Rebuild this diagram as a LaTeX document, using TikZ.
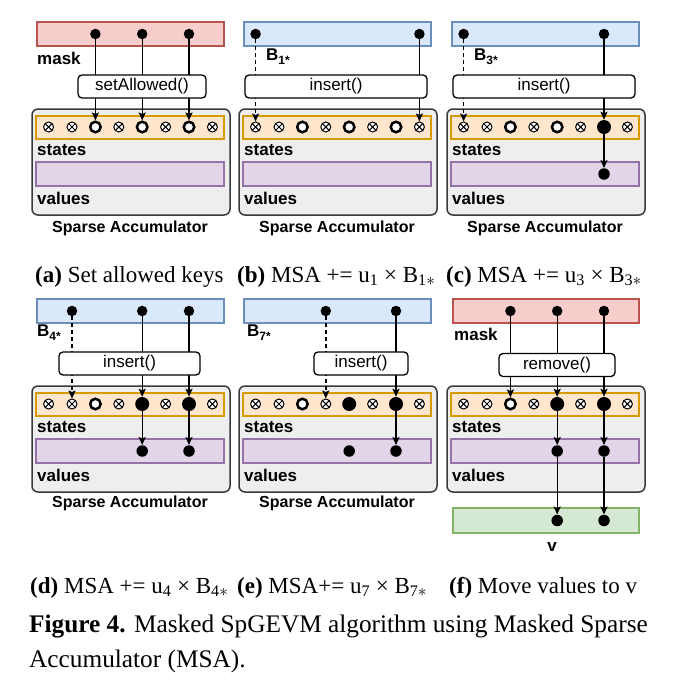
\documentclass[tikz,border=0pt]{standalone}
\usepackage{fontspec}
\setmainfont{Liberation Serif}
\setsansfont{Liberation Sans}
\usetikzlibrary{arrows.meta,positioning,calc}

\definecolor{maskfill}{HTML}{F8CECC}
\definecolor{maskline}{HTML}{B85450}
\definecolor{rowfill}{HTML}{DAE8FC}
\definecolor{rowline}{HTML}{6C8EBF}
\definecolor{statefill}{HTML}{FFE6CC}
\definecolor{stateline}{HTML}{D79B00}
\definecolor{valfill}{HTML}{E1D5E7}
\definecolor{valline}{HTML}{9673A6}
\definecolor{vecfill}{HTML}{D5E8D4}
\definecolor{vecline}{HTML}{82B366}
\definecolor{accfill}{HTML}{EEEEEE}
\definecolor{accline}{HTML}{36393D}

\tikzset{
  strip/.style 2 args={draw=#1, fill=#2, line width=1.1pt},
  accbox/.style={draw=accline, fill=accfill, rounded corners=6pt, line width=1.5pt},
  opbox/.style={draw, fill=white, rounded corners=4pt, line width=1.3pt, minimum height=23pt,
    inner sep=0pt, font=\sffamily\fontsize{17}{17}\selectfont},
  dot/.style={circle, fill=black, inner sep=0pt, minimum size=10.5pt},
  cellx/.style={circle, draw, fill=white, line width=1pt, inner sep=0pt, minimum size=10pt,
    path picture={\draw[line width=1pt]
      (path picture bounding box.south west) -- (path picture bounding box.north east)
      (path picture bounding box.north west) -- (path picture bounding box.south east);}},
  cello/.style={circle, draw, fill=white, line width=2.5pt, inner sep=0pt, minimum size=10.5pt},
  cellf/.style={circle, fill=black, inner sep=0pt, minimum size=14pt},
  arr/.style={-{Stealth[length=8pt,width=7pt,inset=1.5pt]}, line width=1.4pt},
  darr/.style={arr, dash pattern=on 4pt off 3pt},
  lbl/.style={anchor=west, inner sep=0pt, font=\sffamily\bfseries\fontsize{17}{17}\selectfont},
  title/.style={inner sep=0pt, font=\sffamily\bfseries\fontsize{16}{16}\selectfont},
  captxt/.style={anchor=base west, inner sep=0pt, font=\fontsize{23}{23}\selectfont},
}
\newcommand{\subst}[1]{{\fontsize{12}{12}\selectfont\raisebox{-4pt}{#1}}}

\begin{document}
\begin{tikzpicture}[x=1pt,y=-1pt]
\fill[white] (0,0) rectangle (672,680);
\useasboundingbox (0,0) rectangle (672,680);

% (a) set allowed keys
\begin{scope}
  \draw[strip={maskline}{maskfill}] (37,22) rectangle (224,46);
  \foreach \i in {2,4,6} \node[dot] (a-m\i) at ({48.6+23.4*\i},34) {};
  \node[lbl] (a-mlbl) at (37,58) {mask};
  \draw[accbox] (32,109) rectangle (230,215);
  \draw[strip={stateline}{statefill}] (36,116) rectangle (224,139);
  \draw[strip={valline}{valfill}] (36,162) rectangle (224,186);
  \foreach \st [count=\i from 0] in {x,x,o,x,o,x,o,x}
    \node[cell\st] (a-s\i) at ({48.6+23.4*\i},127) {};
  \node[lbl] (a-slbl) at (37,150) {states};
  \node[lbl] (a-vlbl) at (37,198) {values};
  \node[title] (a-title) at (130,228.5) {Sparse Accumulator};
  \foreach \i in {2,4,6} \draw[arr] (a-m\i) -- (a-s\i);
  \node[opbox, minimum width=128pt] (a-op) at (142,86.5) {setAllowed()};
\end{scope}

% (b) u1 x B1*
\begin{scope}[shift={(207,0)}]
  \draw[strip={rowline}{rowfill}] (37,22) rectangle (224,46);
  \foreach \i in {0,7} \node[dot] (b-r\i) at ({48.6+23.4*\i},34) {};
  \node[lbl] (b-rlbl) at (59,57) {B\subst{1*}};
  \draw[accbox] (32,109) rectangle (230,215);
  \draw[strip={stateline}{statefill}] (36,116) rectangle (224,139);
  \draw[strip={valline}{valfill}] (36,162) rectangle (224,186);
  \foreach \st [count=\i from 0] in {x,x,o,x,o,x,o,x}
    \node[cell\st] (b-s\i) at ({48.6+23.4*\i},127) {};
  \node[lbl] (b-slbl) at (37,150) {states};
  \node[lbl] (b-vlbl) at (37,198) {values};
  \node[title] (b-title) at (130,228.5) {Sparse Accumulator};
  \draw[darr] (b-r0) -- (b-s0);
  \draw[arr] (b-r7) -- (b-s7);
  \node[opbox, minimum width=182pt] (b-op) at (129,86.5) {insert()};
\end{scope}

% (c) u3 x B3*
\begin{scope}[shift={(415,0)}]
  \draw[strip={rowline}{rowfill}] (37,22) rectangle (224,46);
  \foreach \i in {0,6} \node[dot] (c-r\i) at ({48.6+23.4*\i},34) {};
  \node[lbl] (c-rlbl) at (59,57) {B\subst{3*}};
  \draw[accbox] (32,109) rectangle (230,215);
  \draw[strip={stateline}{statefill}] (36,116) rectangle (224,139);
  \draw[strip={valline}{valfill}] (36,162) rectangle (224,186);
  \foreach \st [count=\i from 0] in {x,x,o,x,o,x,f,x}
    \node[cell\st] (c-s\i) at ({48.6+23.4*\i},127) {};
  \node[dot, minimum size=11.5pt] (c-v6) at ({48.6+23.4*6},174) {};
  \node[lbl] (c-slbl) at (37,150) {states};
  \node[lbl] (c-vlbl) at (37,198) {values};
  \node[title] (c-title) at (130,228.5) {Sparse Accumulator};
  \draw[darr] (c-r0) -- (c-s0);
  \draw[arr] (c-r6) -- (c-s6);
  \draw[arr] (c-s6) -- (c-v6);
  \node[opbox, minimum width=182pt] (c-op) at (129,86.5) {insert()};
\end{scope}

% (d) u4 x B4*
\begin{scope}[shift={(0,277)}]
  \draw[strip={rowline}{rowfill}] (37,22) rectangle (224,46);
  \foreach \i in {1,4,6} \node[dot] (d-r\i) at ({48.6+23.4*\i},34) {};
  \node[lbl] (d-rlbl) at (37,56) {B\subst{4*}};
  \draw[accbox] (32,109) rectangle (230,215);
  \draw[strip={stateline}{statefill}] (36,116) rectangle (224,139);
  \draw[strip={valline}{valfill}] (36,162) rectangle (224,186);
  \foreach \st [count=\i from 0] in {x,x,o,x,f,x,f,x}
    \node[cell\st] (d-s\i) at ({48.6+23.4*\i},127) {};
  \foreach \i in {4,6} \node[dot, minimum size=11.5pt] (d-v\i) at ({48.6+23.4*\i},174) {};
  \node[lbl] (d-slbl) at (37,150) {states};
  \node[lbl] (d-vlbl) at (37,198) {values};
  \node[title] (d-title) at (130,226.5) {Sparse Accumulator};
  \draw[darr] (d-r1) -- (d-s1);
  \foreach \i in {4,6} {
    \draw[arr] (d-r\i) -- (d-s\i);
    \draw[arr] (d-s\i) -- (d-v\i);
  }
  \node[opbox, minimum width=141pt] (d-op) at (129.5,86.5) {insert()};
\end{scope}

% (e) u7 x B7*
\begin{scope}[shift={(207,277)}]
  \draw[strip={rowline}{rowfill}] (37,22) rectangle (224,46);
  \foreach \i in {3,6} \node[dot] (e-r\i) at ({48.6+23.4*\i},34) {};
  \node[lbl] (e-rlbl) at (40,56) {B\subst{7*}};
  \draw[accbox] (32,109) rectangle (230,215);
  \draw[strip={stateline}{statefill}] (36,116) rectangle (224,139);
  \draw[strip={valline}{valfill}] (36,162) rectangle (224,186);
  \foreach \st [count=\i from 0] in {x,x,o,x,f,x,f,x}
    \node[cell\st] (e-s\i) at ({48.6+23.4*\i},127) {};
  \foreach \i in {4,6} \node[dot, minimum size=11.5pt] (e-v\i) at ({48.6+23.4*\i},174) {};
  \node[lbl] (e-slbl) at (37,150) {states};
  \node[lbl] (e-vlbl) at (37,198) {values};
  \node[title] (e-title) at (130,226.5) {Sparse Accumulator};
  \draw[darr] (e-r3) -- (e-s3);
  \draw[arr] (e-r6) -- (e-s6);
  \draw[arr] (e-s6) -- (e-v6);
  \node[opbox, minimum width=94pt] (e-op) at (154,86.5) {insert()};
\end{scope}

% (f) move values to v
\begin{scope}[shift={(415,277)}]
  \draw[strip={maskline}{maskfill}] (38,22) rectangle (224,46);
  \foreach \i in {2,4,6} \node[dot] (f-m\i) at ({48.6+23.4*\i},34) {};
  \node[lbl] (f-mlbl) at (39,57) {mask};
  \draw[accbox] (32,109) rectangle (230,215);
  \draw[strip={stateline}{statefill}] (36,116) rectangle (224,139);
  \draw[strip={valline}{valfill}] (36,162) rectangle (224,186);
  \foreach \st [count=\i from 0] in {x,x,o,x,f,x,f,x}
    \node[cell\st] (f-s\i) at ({48.6+23.4*\i},127) {};
  \foreach \i in {4,6} \node[dot, minimum size=11.5pt] (f-v\i) at ({48.6+23.4*\i},174) {};
  \node[lbl] (f-slbl) at (37,150) {states};
  \node[lbl] (f-vlbl) at (37,198) {values};
  \draw[strip={vecline}{vecfill}] (38,231) rectangle (224,256);
  \foreach \i in {4,6} \node[dot, minimum size=11.5pt] (f-o\i) at ({48.6+23.4*\i},243.5) {};
  \node[lbl, anchor=center] (f-olbl) at (137,270) {v};
  \foreach \i in {2,4,6} \draw[arr] (f-m\i) -- (f-s\i);
  \foreach \i in {4,6} {
    \draw[arr] (f-s\i) -- (f-v\i);
    \draw[arr] (f-v\i) -- (f-o\i);
  }
  \node[opbox, minimum width=116pt] (f-op) at (142,88) {remove()};
\end{scope}

% captions
\node[captxt] (cap-a) at (35,282) {\textbf{(a)} Set allowed keys};
\node[captxt] (cap-b) at (237,282) {\textbf{(b)} MSA += u\textsubscript{1} × B\textsubscript{1$\ast$}};
\node[captxt] (cap-c) at (446,282) {\textbf{(c)} MSA += u\textsubscript{3} × B\textsubscript{3$\ast$}};
\node[captxt] (cap-d) at (30,593) {\textbf{(d)} MSA += u\textsubscript{4} × B\textsubscript{4$\ast$}};
\node[captxt] (cap-e) at (237,593) {\textbf{(e)} MSA+= u\textsubscript{7} × B\textsubscript{7$\ast$}};
\node[captxt] (cap-f) at (449,593) {\textbf{(f)} Move values to v};
\node[captxt, font=\fontsize{25.3}{25}\selectfont] (fig1) at (29,632)
  {\textbf{Figure 4.} Masked SpGEVM algorithm using Masked Sparse};
\node[captxt, font=\fontsize{25.3}{25}\selectfont] (fig2) at (29,667) {Accumulator (MSA).};
\end{tikzpicture}
\end{document}
